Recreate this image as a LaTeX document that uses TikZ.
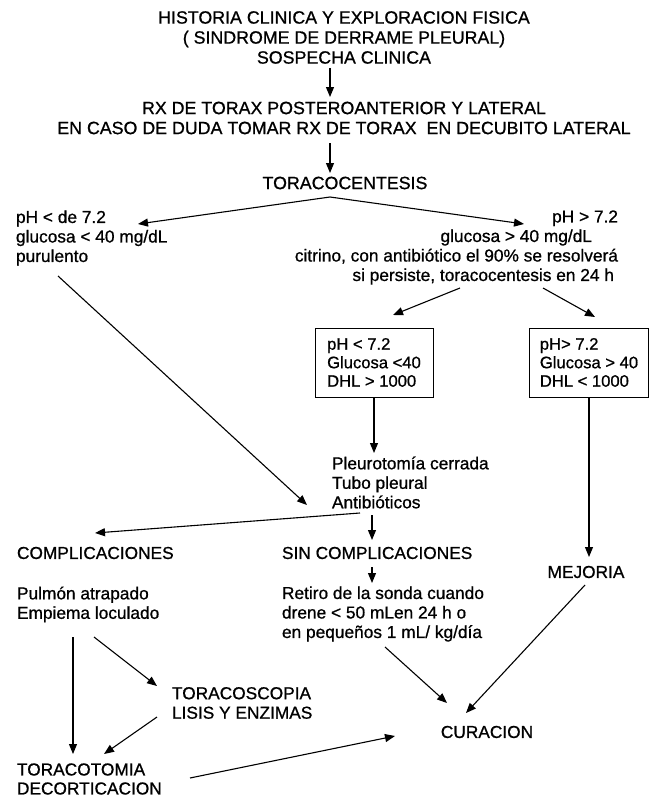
\documentclass[tikz,border=0pt]{standalone}
\usepackage{fontspec}
\setmainfont{Liberation Sans}[FakeBold=0.8]
\usetikzlibrary{arrows.meta,calc}
\begin{document}
\begin{tikzpicture}[x=1pt,y=-1pt,
  every node/.style={inner sep=0pt,outer sep=0pt,font=\fontsize{17.3}{19.5}\selectfont},
  big/.style={font=\fontsize{17.8}{20}\selectfont,align=center},
  txt/.style={align=left},
  box/.style={draw,line width=1pt,inner xsep=10pt,minimum width=118pt,minimum height=69pt,align=left,font=\fontsize{16.6}{18.5}\selectfont},
  arr/.style={line width=1.1pt,-{Triangle[length=10pt,width=8pt]}}]
\useasboundingbox (0,0) rectangle (668,800);
\fill[white] (0,0) rectangle (668,800);
% nodes
\node[big] (title) at (344,37.5) {HISTORIA CLINICA Y EXPLORACION FISICA\\( SINDROME DE DERRAME PLEURAL)\\SOSPECHA CLINICA};
\node[big] (rx) at (344,118) {RX DE TORAX POSTEROANTERIOR Y LATERAL\\EN CASO DE DUDA TOMAR RX DE TORAX~ EN DECUBITO LATERAL};
\node[big] (toraco) at (345,183) {TORACOCENTESIS};
\node[txt,anchor=west] (lft) at (16,238) {pH < de 7.2\\glucosa < 40 mg/dL\\purulento};
\node[align=right,anchor=east] (rgt) at (618,247.5) {pH > 7.2\\glucosa > 40 mg/dL\rule{26pt}{0pt}\\citrino, con antibiótico el 90\% se resolverá\\si persiste, toracocentesis en 24 h\rule{4pt}{0pt}};
\node[box] (box1) at (374,362.5) {pH < 7.2\\Glucosa <40\\DHL > 1000};
\node[box] (box2) at (589,362.5) {pH> 7.2\\Glucosa > 40\\DHL < 1000};
\node[txt,anchor=west] (pleu) at (332,482.5) {Pleurotomía cerrada\\Tubo pleural\\Antibióticos};
\node[anchor=west] (comp) at (17,553) {COMPLICACIONES};
\node[anchor=west] (sin) at (282,553) {SIN COMPLICACIONES};
\node (mej) at (586,572) {MEJORIA};
\node[txt,anchor=west] (pulm) at (17,604.5) {Pulmón atrapado\\Empiema loculado};
\node[txt,anchor=west] (ret) at (282,614) {Retiro de la sonda cuando\\drene < 50 mLen 24 h o\\en pequeños 1 mL/ kg/día};
\node[txt,anchor=west] (tcs) at (172,703) {TORACOSCOPIA\\LISIS Y ENZIMAS};
\node (cur) at (487,732) {CURACION};
\node[txt,anchor=west,font=\fontsize{17.3}{19}\selectfont] (tct) at (17,779) {TORACOTOMIA\\DECORTICACION};
% connectors
\draw[arr] ($(title.center)+(-14,30.5)$) -- ($(rx.center)+(-14,-21)$);
\draw[arr] ($(rx.center)+(-14,25)$) -- ($(toraco.center)+(-15,-10)$);
\draw[arr] ($(toraco.center)+(-15,14)$) -- ($(lft.west)+(122,-14)$);
\draw[arr] ($(toraco.center)+(-15,14)$) -- ($(rgt.east)+(-94,-23.5)$);
\draw[arr] ($(lft.west)+(42,38)$) -- ($(pleu.west)+(-25,22.5)$);
\draw[arr] ($(rgt.east)+(-158,40.5)$) -- ($(box1.north)+(19,-13)$);
\draw[arr] ($(rgt.east)+(-75,40.5)$) -- ($(box2.north)+(6,-11)$);
\draw[arr] (box1.south) -- ($(pleu.west)+(42,-29.5)$);
\draw[arr] (box2.south) -- ($(mej.center)+(3,-15)$);
\draw[arr] ($(pleu.west)+(28,30.5)$) -- ($(comp.west)+(78,-20)$);
\draw[arr] ($(pleu.west)+(40,32.5)$) -- ($(sin.west)+(90,-13)$);
\draw[arr] ($(sin.west)+(90,14)$) -- ($(ret.west)+(90,-31)$);
\draw[arr] ($(pulm.west)+(56,32.5)$) -- ($(tct.west)+(56,-25)$);
\draw[arr] ($(pulm.west)+(77,32.5)$) -- ($(tcs.west)+(-15,-17)$);
\draw[arr] ($(tcs.west)+(-15,14)$) -- ($(tct.west)+(87,-25)$);
\draw[arr] ($(tct.west)+(173,-1)$) -- ($(cur.center)+(-92,4)$);
\draw[arr] ($(ret.west)+(103,33)$) -- ($(cur.center)+(-40,-29)$);
\draw[arr] ($(mej.center)+(-1,13)$) -- ($(cur.center)+(-21,-19)$);
\end{tikzpicture}
\end{document}
